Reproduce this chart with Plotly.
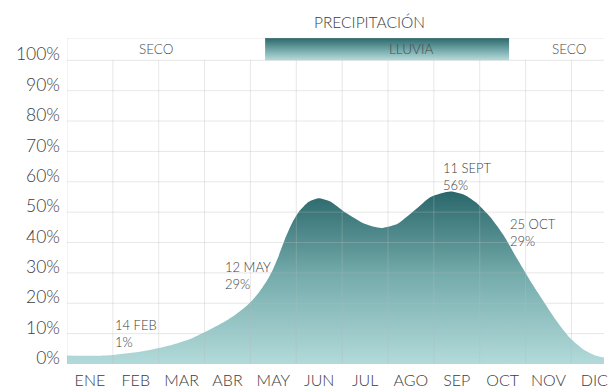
import plotly.graph_objects as go

# Month categories (each month is one unit on the x axis, labels centred in the column)
months = ["ENE", "FEB", "MAR", "ABR", "MAY", "JUN", "JUL", "AGO", "SEP", "OCT", "NOV", "DIC"]

# Precipitation curve: x in months since 1 January, y in percent
curve_x = [0.00, 0.57, 1.00, 1.65, 2.24, 2.73, 3.25, 3.50, 3.68, 3.90, 4.03, 4.18, 4.34,
           4.47, 4.60, 4.77, 4.92, 5.05, 5.27, 5.48, 5.74, 6.06, 6.49, 6.85, 7.21, 7.58,
           7.93, 8.36, 8.66, 8.95, 9.23, 9.52, 9.81, 10.09, 10.39, 10.68, 10.96, 11.26,
           11.54, 11.72]
curve_y = [2.8, 2.7, 3.0, 4.2, 6.1, 8.5, 12.4, 14.5, 16.3, 18.9, 20.8, 23.5, 27.0,
           30.5, 35.0, 41.8, 46.8, 50.0, 53.4, 54.6, 53.5, 50.0, 46.2, 44.8, 46.2, 50.6,
           55.0, 56.8, 55.7, 52.8, 48.4, 42.4, 34.8, 27.7, 20.7, 14.1, 8.7, 4.8,
           2.7, 2.1]

# Y axis ticks
y_ticks = [0, 10, 20, 30, 40, 50, 60, 70, 80, 90, 100]
y_tick_text = ["0%", "10%", "20%", "30%", "40%", "50%", "60%", "70%", "80%", "90%", "100%"]

# Rainy season (months since 1 January)
rain_start = 4.32
rain_end = 9.64
season_names = ["SECO", "LLUVIA", "SECO"]

# Callouts: date and percentage
callout_dates = ["14 FEB", "12 MAY", "11 SEPT", "25 OCT"]
callout_values = [1, 29, 56, 29]

# ---- styling / layout ----
FONT = "Lato"
TEXT = "#3c3c3c"
GRID = "rgba(185,185,185,0.34)"
X_MAX = 11.71
Y_MAX = 107.35
HEADER_BOTTOM = 100

fig = go.Figure()

# main precipitation area with a vertical teal gradient
fig.add_trace(go.Scatter(
    x=curve_x, y=curve_y,
    mode="lines",
    line=dict(shape="spline", smoothing=0.6, width=0, color="rgba(0,0,0,0)"),
    fill="tozeroy",
    fillgradient=dict(
        type="vertical", start=0, stop=57,
        colorscale=[[0, "#b4dbdb"], [0.5, "#78aeae"], [1, "#2a676b"]],
    ),
    hoverinfo="skip", showlegend=False,
))

# rainy-season band in the header row
fig.add_trace(go.Scatter(
    x=[rain_start, rain_end, rain_end, rain_start, rain_start],
    y=[HEADER_BOTTOM, HEADER_BOTTOM, Y_MAX, Y_MAX, HEADER_BOTTOM],
    mode="lines", line=dict(width=0),
    fill="toself",
    fillgradient=dict(
        type="vertical", start=HEADER_BOTTOM, stop=Y_MAX,
        colorscale=[[0, "#b9dcdc"], [0.5, "#6fa4a5"], [1, "#2c686b"]],
    ),
    hoverinfo="skip", showlegend=False,
))

shapes = []
# horizontal grid lines
for v in y_ticks[1:]:
    shapes.append(dict(type="line", xref="x", yref="y", x0=0, x1=X_MAX, y0=v, y1=v,
                       line=dict(color=GRID, width=1), layer="above"))
# vertical grid lines (stop at the header row)
for i in range(1, len(months)):
    shapes.append(dict(type="line", xref="x", yref="y", x0=i, x1=i, y0=0, y1=HEADER_BOTTOM,
                       line=dict(color=GRID, width=1), layer="above"))
# frame: left edge and top of header row
shapes.append(dict(type="line", xref="x", yref="y", x0=0, x1=0, y0=0, y1=Y_MAX,
                   line=dict(color=GRID, width=1), layer="above"))
shapes.append(dict(type="line", xref="x", yref="y", x0=0, x1=X_MAX, y0=Y_MAX, y1=Y_MAX,
                   line=dict(color=GRID, width=1), layer="above"))

annotations = []
# chart title
annotations.append(dict(text="PRECIPITACIÓN", xref="x", yref="paper", x=6.6, y=1.05,
                        xanchor="center", yanchor="middle", showarrow=False,
                        font=dict(family=FONT, size=15.5, color=TEXT, weight=300)))
# season labels in the header row
season_x = [1.95, 7.5, 10.95]
for name, sx in zip(season_names, season_x):
    annotations.append(dict(text=name, xref="x", yref="y", x=sx, y=103.8,
                            xanchor="center", yanchor="middle", showarrow=False,
                            font=dict(family=FONT, size=13.5, color="#4a4a4a", weight=300)))
# date callouts (date line above, value line below)
callout_x = [1.02, 3.42, 8.17, 9.63]
callout_y = [10.0, 29.0, 61.6, 43.4]
for d, v, cx, cy in zip(callout_dates, callout_values, callout_x, callout_y):
    for txt, shift in ((d, 8.5), (f"{v}%", -8.5)):
        annotations.append(dict(text=txt, xref="x", yref="y", x=cx, y=cy, yshift=shift,
                                xanchor="left", yanchor="middle", align="left",
                                showarrow=False, borderpad=0,
                                font=dict(family=FONT, size=13, color=TEXT, weight=300)))

fig.update_layout(
    width=608, height=389,
    margin=dict(l=67, r=0, t=38, b=23, pad=0),
    paper_bgcolor="white", plot_bgcolor="white",
    font=dict(family=FONT, color=TEXT),
    shapes=shapes, annotations=annotations,
    xaxis=dict(
        range=[0, X_MAX], showgrid=False, zeroline=False, showline=False,
        tickmode="array", tickvals=[i + 0.5 for i in range(len(months))], ticktext=months,
        ticks="", tickfont=dict(family=FONT, size=16, color=TEXT, weight=300),
        ticklabelstandoff=5, ticklabeloverflow="allow", fixedrange=True,
    ),
    yaxis=dict(
        range=[0, Y_MAX], showgrid=False, zeroline=False, showline=False,
        tickmode="array", tickvals=y_ticks, ticktext=y_tick_text,
        ticks="", tickfont=dict(family=FONT, size=17.5, color=TEXT, weight=300),
        ticklabelshift=-6, ticklabelstandoff=6, fixedrange=True,
    ),
)

fig.write_html("out.html")
